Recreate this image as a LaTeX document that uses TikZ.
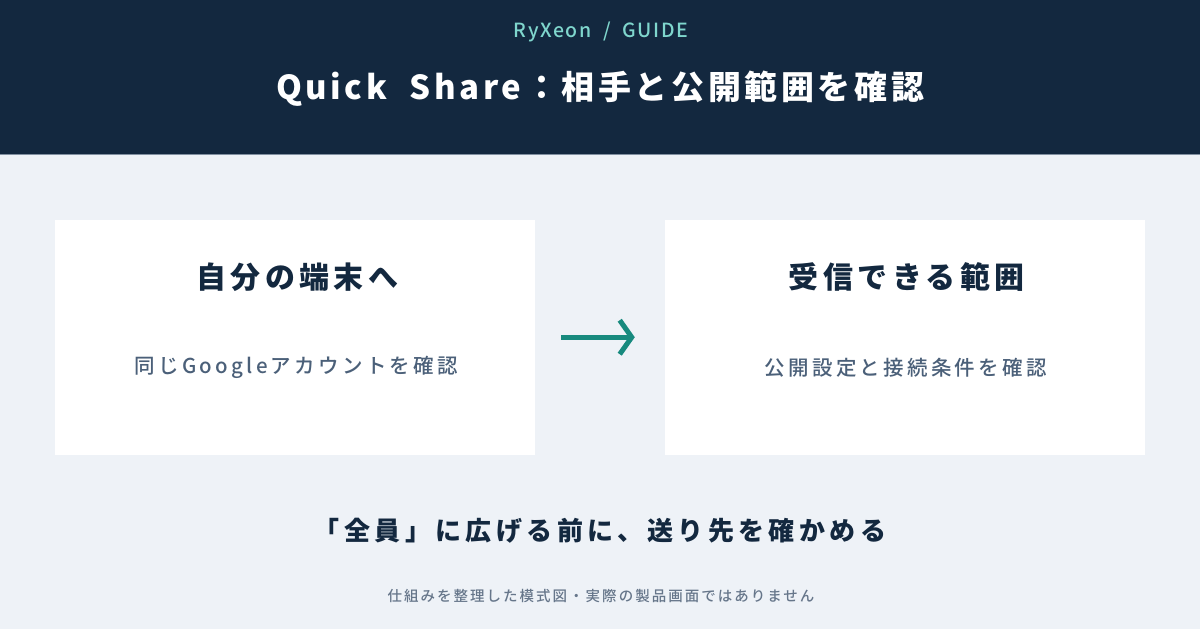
\documentclass[tikz,border=0pt]{standalone}
\usepackage{fontspec}
\setmainfont{Noto Sans CJK JP}
\newfontfamily\medfont{Noto Sans CJK JP Medium}
\usetikzlibrary{arrows.meta}
\definecolor{navy}{HTML}{13283F}
\definecolor{paper}{HTML}{EEF2F7}
\definecolor{mint}{HTML}{7FD6CD}
\definecolor{teal}{HTML}{178A7E}
\definecolor{slate}{HTML}{4B6079}
\definecolor{mist}{HTML}{66768A}
\begin{document}
\begin{tikzpicture} [x=1pt,y=-1pt,card/.style={rectangle, fill=white, minimum width=480pt, minimum height=235pt, inner sep=0pt},head/.style={font=\fontsize{30}{36}\selectfont\bfseries\addfontfeatures{LetterSpace=15}, text=navy},sub/.style={font=\medfont\fontsize{20.5}{24}\selectfont\addfontfeatures{LetterSpace=16}, text=slate}]
  \fill[paper] (0,0) rectangle (1200,630);
  \fill[navy] (0,0) rectangle (1200,155);
  \draw[slate!70, line width=1pt] (0,155) -- (1200,155);

  \node[text=mint, font=\medfont\fontsize{19.5}{22}\selectfont\addfontfeatures{LetterSpace=8}] (brand) at (601,32) {RyXeon\ \ /\ \ GUIDE};
  \node[text=white, font=\fontsize{33}{40}\selectfont\bfseries\addfontfeatures{LetterSpace=11}] (title) at (600,89) {Quick\ \ Share：相手と公開範囲を確認};

  \node[card] (own) at (295,337.5) {};
  \node[card] (recv) at (905,337.5) {};

  \node[head] (ownt) at (297,277) {自分の端末へ};
  \node[sub] (owns) at (296,368) {同じGoogleアカウントを確認};
  \node[head] (recvt) at (907,277) {受信できる範囲};
  \node[sub] (recvs) at (906,368) {公開設定と接続条件を確認};

  \draw[teal, line width=5pt, -{Straight Barb[length=12pt, width=34pt]}, shorten <=26pt, shorten >=30pt] (own) -- (recv);

  \node[text=navy, font=\fontsize{26}{31}\selectfont\bfseries\addfontfeatures{LetterSpace=17}] (msg) at (600,531) {「全員」に広げる前に、送り先を確かめる};
  \node[text=mist, font=\medfont\fontsize{14.5}{17}\selectfont\addfontfeatures{LetterSpace=14}] (note) at (601,597) {仕組みを整理した模式図・実際の製品画面ではありません};

\end{tikzpicture}
\end{document}
